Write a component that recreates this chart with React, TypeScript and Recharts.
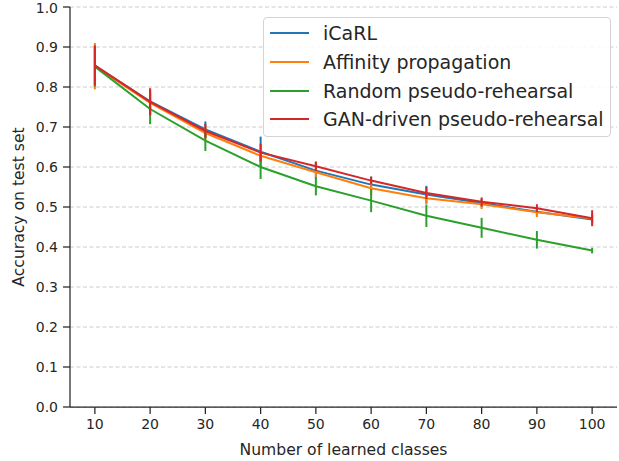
import { LineChart, Line, CartesianGrid, XAxis, YAxis, ErrorBar } from "recharts";

const classes = [10, 20, 30, 40, 50, 60, 70, 80, 90, 100];

const icarl = [0.853, 0.764, 0.694, 0.638, 0.591, 0.556, 0.531, 0.51, 0.488, 0.469];
const icarlErr = [0.05, 0.03, 0.02, 0.038, 0.02, 0.02, 0.022, 0.01, 0.012, 0.01];

const affinity = [0.852, 0.76, 0.685, 0.628, 0.587, 0.547, 0.522, 0.507, 0.487, 0.471];
const affinityErr = [0.058, 0.03, 0.015, 0.015, 0.015, 0.02, 0.015, 0.012, 0.012, 0.01];

const random = [0.851, 0.745, 0.666, 0.6, 0.552, 0.516, 0.478, 0.448, 0.418, 0.391];
const randomErr = [0.05, 0.038, 0.026, 0.03, 0.023, 0.029, 0.028, 0.025, 0.022, 0.007];

const gan = [0.854, 0.763, 0.69, 0.636, 0.602, 0.566, 0.535, 0.513, 0.497, 0.472];
const ganErr = [0.05, 0.034, 0.018, 0.022, 0.012, 0.01, 0.015, 0.011, 0.01, 0.02];

const xTicks = [10, 20, 30, 40, 50, 60, 70, 80, 90, 100];
const yTicks = [0, 0.1, 0.2, 0.3, 0.4, 0.5, 0.6, 0.7, 0.8, 0.9, 1.0];

const series = [
  { key: "icarl", name: "iCaRL", color: "#1f77b4" },
  { key: "affinity", name: "Affinity propagation", color: "#ff7f0e" },
  { key: "random", name: "Random pseudo-rehearsal", color: "#2ca02c" },
  { key: "gan", name: "GAN-driven pseudo-rehearsal", color: "#d62728" },
];

const data = classes.map((c, i) => ({
  classes: c,
  icarl: icarl[i],
  icarlErr: icarlErr[i],
  affinity: affinity[i],
  affinityErr: affinityErr[i],
  random: random[i],
  randomErr: randomErr[i],
  gan: gan[i],
  ganErr: ganErr[i],
}));

const FONT = "'DejaVu Sans', sans-serif";
const INK = "#262626";

// legend drawn as an overlay so it doesn't steal plot space
function LegendBox() {
  return (
    <div
      style={{
        position: "absolute",
        left: 263,
        top: 17,
        width: 348,
        height: 120,
        border: "1px solid #d4d4d4",
        borderRadius: 4,
        background: "rgba(255,255,255,0.85)",
        boxSizing: "border-box",
        paddingTop: 1,
      }}
    >
      {series.map((s) => (
        <div key={s.key} style={{ display: "flex", alignItems: "center", height: 28.7 }}>
          <div style={{ width: 39, height: 2, background: s.color, marginLeft: 6, marginRight: 14 }} />
          <span style={{ fontFamily: FONT, fontSize: 19, color: INK, lineHeight: "20px" }}>{s.name}</span>
        </div>
      ))}
    </div>
  );
}

export default function App() {
  return (
    <div style={{ position: "absolute", left: 0, top: 0, width: 619, height: 461 }}>
      <LineChart width={619} height={461} data={data} margin={{ top: 7, right: 2, bottom: 0, left: 0 }}>
        <CartesianGrid vertical={false} stroke="#cccccc" strokeDasharray="4 2.5" strokeWidth={1} />
        <XAxis
          dataKey="classes"
          type="number"
          domain={[5.5, 104.5]}
          ticks={xTicks}
          height={54}
          tickSize={7}
          tickMargin={5}
          stroke={INK}
          strokeWidth={1.25}
          tick={{ fill: INK, fontSize: 14, fontFamily: FONT }}
          label={{
            content: ({ viewBox }: any) => (
              <text
                x={viewBox.x + viewBox.width / 2}
                y={455}
                textAnchor="middle"
                fill={INK}
                fontSize={15.6}
                fontFamily={FONT}
              >
                Number of learned classes
              </text>
            ),
          }}
        />
        <YAxis
          type="number"
          domain={[0, 1]}
          ticks={yTicks}
          width={70}
          tickSize={7}
          tickMargin={5}
          stroke={INK}
          strokeWidth={1.25}
          tickFormatter={(v: number) => v.toFixed(1)}
          tick={{ fill: INK, fontSize: 14, fontFamily: FONT }}
          label={{
            content: ({ viewBox }: any) => {
              const cy = viewBox.y + viewBox.height / 2;
              return (
                <text
                  x={24}
                  y={cy}
                  transform={`rotate(-90, 24, ${cy})`}
                  textAnchor="middle"
                  fill={INK}
                  fontSize={15.6}
                  fontFamily={FONT}
                >
                  Accuracy on test set
                </text>
              );
            },
          }}
        />
        {series.map((s) => (
          <Line
            key={s.key}
            dataKey={s.key}
            name={s.name}
            stroke={s.color}
            strokeWidth={2}
            dot={false}
            activeDot={false}
            isAnimationActive={false}
          >
            <ErrorBar
              dataKey={s.key + "Err"}
              direction="y"
              width={0}
              stroke={s.color}
              strokeWidth={2}
              isAnimationActive={false}
            />
          </Line>
        ))}
      </LineChart>
      <LegendBox />
    </div>
  );
}
